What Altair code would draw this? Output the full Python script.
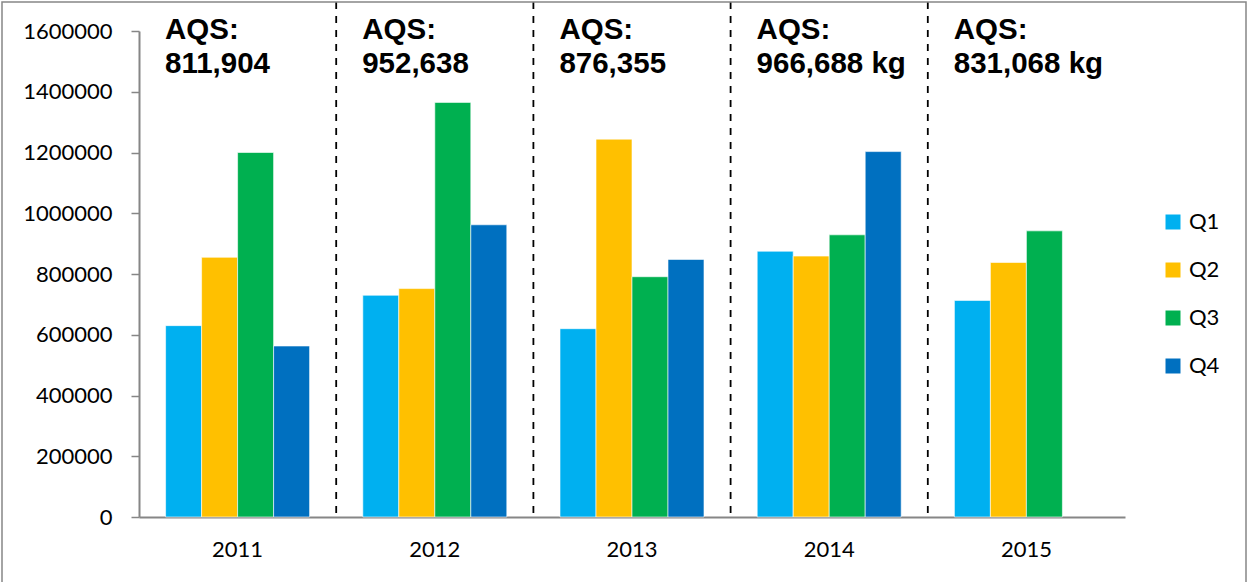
import altair as alt
import pandas as pd

# Quarterly quantities per year
years = ["2011", "2012", "2013", "2014", "2015"]
quarters = ["Q1", "Q2", "Q3", "Q4"]
q1 = [630000, 730000, 620000, 875000, 713000]
q2 = [855000, 752000, 1244000, 859000, 838000]
q3 = [1200000, 1365000, 791000, 929000, 942000]
q4 = [563000, 962000, 848000, 1203000, None]
aqs_labels = ["811,904", "952,638", "876,355", "966,688 kg", "831,068 kg"]
colors = ["#00B0F0", "#FFC000", "#00B050", "#0070C0"]
y_ticks = [0, 200000, 400000, 600000, 800000, 1000000, 1200000, 1400000, 1600000]

rows = []
for qname, series in zip(quarters, [q1, q2, q3, q4]):
    for yr, v in zip(years, series):
        if v is not None:
            rows.append({"year": yr, "quarter": qname, "value": v})
bars_df = pd.DataFrame(rows)

labels_df = pd.DataFrame({"year": years, "label": [["AQS:", t] for t in aqs_labels]})
dividers_df = pd.DataFrame({"year": years[1:]})

TICK_FONT = "Lato"
GREY = "#868686"

x_scale = alt.Scale(domain=years, paddingInner=0, paddingOuter=0)
x_axis = alt.Axis(
    title=None, ticks=False, labelAngle=0, labelFont=TICK_FONT,
    labelFontSize=22, labelColor="#000000", labelPadding=22,
    domainColor=GREY, domainWidth=2,
)

bars = alt.Chart(bars_df).mark_bar(stroke="white", strokeWidth=0.6).encode(
    x=alt.X("year:N", scale=x_scale, axis=x_axis),
    xOffset=alt.XOffset(
        "quarter:N",
        scale=alt.Scale(domain=quarters, paddingInner=0, paddingOuter=0.739),
    ),
    y=alt.Y(
        "value:Q",
        scale=alt.Scale(domain=[0, 1600000], nice=False),
        axis=alt.Axis(
            title=None, values=y_ticks, format="d", grid=False,
            labelFont=TICK_FONT, labelFontSize=22, labelColor="#000000",
            labelPadding=19, tickSize=8, tickColor=GREY, tickWidth=1.5,
            domainColor=GREY, domainWidth=2,
        ),
    ),
    color=alt.Color(
        "quarter:N",
        scale=alt.Scale(domain=quarters, range=colors),
        legend=alt.Legend(
            title=None, orient="none", legendX=1023, legendY=180,
            symbolType="square", symbolSize=225, symbolStrokeWidth=0,
            labelFont=TICK_FONT, labelFontSize=22, labelColor="#000000",
            rowPadding=26, padding=0, labelOffset=5,
        ),
    ),
)

dividers = alt.Chart(dividers_df).mark_rule(
    color="#000000", strokeWidth=1.8, strokeDash=[7, 7]
).encode(
    x=alt.X("year:N", bandPosition=0, scale=x_scale, axis=x_axis),
    y=alt.value(-29),
    y2=alt.value(486),
)

labels = alt.Chart(labels_df).mark_text(
    align="left", baseline="alphabetic", font="Liberation Sans",
    fontWeight="bold", fontSize=29.5, lineHeight=34, dx=26, color="#000000",
).encode(
    x=alt.X("year:N", bandPosition=0, scale=x_scale, axis=x_axis),
    y=alt.value(8),
    text="label",
)

frame = alt.Chart(pd.DataFrame({"k": [0]})).mark_rect(
    fill=None, stroke=GREY, strokeWidth=1.5
).encode(
    x=alt.value(-137), x2=alt.value(1107), y=alt.value(-29), y2=alt.value(570),
)

chart = (
    alt.layer(bars, dividers, labels, frame)
    .properties(
        width=986, height=486,
        autosize=alt.AutoSizeParams(type="none"),
        padding={"left": 139, "top": 31, "right": 122, "bottom": 65},
        background="white",
    )
    .configure_view(stroke=None)
)

chart.save("out.html", embed_options={"renderer": "svg", "actions": False})
